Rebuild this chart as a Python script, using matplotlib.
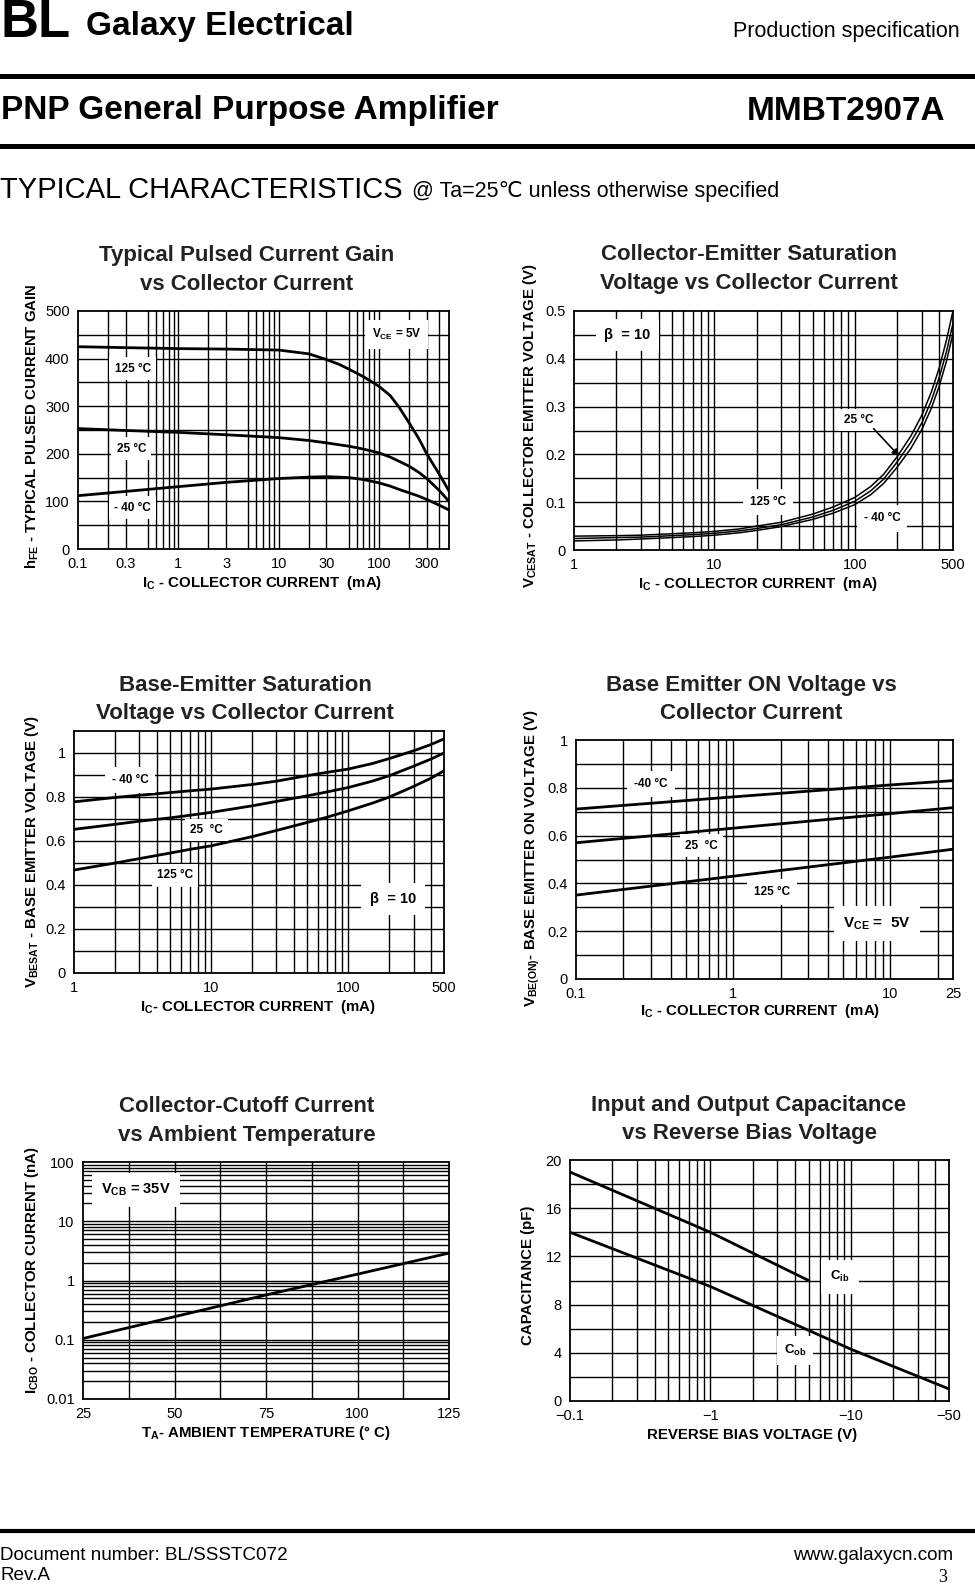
import numpy as np
import matplotlib
matplotlib.use("Agg")
import matplotlib.pyplot as plt
from matplotlib.lines import Line2D

plt.rcParams['font.family'] = ['Liberation Sans', 'DejaVu Sans']
plt.rcParams['mathtext.fontset'] = 'custom'
plt.rcParams['mathtext.rm'] = 'Liberation Sans:bold'
plt.rcParams['mathtext.it'] = 'Liberation Sans:bold'
plt.rcParams['mathtext.bf'] = 'Liberation Sans:bold'
plt.rcParams['mathtext.default'] = 'rm'

W, H = 975, 1584

# --- chart 1: hFE vs Ic
hfe_ic = [0.1, 0.3, 1, 3, 10, 20, 30, 40, 50, 70, 100, 130, 160, 200, 250, 300, 400, 500]
hfe_125 = [425, 423, 421, 420, 418, 410, 398, 388, 378, 362, 342, 322, 297, 265, 232, 200, 157, 122]
hfe_25 = [253, 249, 245, 240, 234, 228, 223, 219, 216, 210, 202, 193, 184, 174, 161, 148, 123, 100]
hfe_m40 = [112, 121, 131, 140, 148, 151, 152, 151, 150, 146, 139, 132, 125, 118, 111, 104, 92, 82]

# --- chart 2: VCEsat vs Ic
vce_ic = [1, 2, 3, 5, 7, 10, 15, 20, 30, 50, 70, 100, 130, 160, 200, 250, 300, 350, 400, 450, 500]
vce_125 = [0.029, 0.030, 0.031, 0.034, 0.036, 0.039, 0.044, 0.050, 0.058, 0.075, 0.090, 0.110,
           0.133, 0.158, 0.195, 0.238, 0.282, 0.330, 0.382, 0.440, 0.500]
vce_25 = [0.024, 0.026, 0.027, 0.030, 0.032, 0.035, 0.040, 0.045, 0.053, 0.069, 0.083, 0.102,
          0.124, 0.148, 0.184, 0.225, 0.266, 0.312, 0.362, 0.416, 0.474]
vce_m40 = [0.019, 0.021, 0.023, 0.026, 0.028, 0.031, 0.036, 0.041, 0.049, 0.064, 0.077, 0.095,
           0.116, 0.139, 0.173, 0.212, 0.252, 0.296, 0.344, 0.396, 0.453]

# --- chart 3: VBEsat vs Ic
vbs_ic = [1, 2, 3, 5, 7, 10, 20, 30, 50, 70, 100, 150, 200, 300, 400, 500]
vbs_m40 = [0.778, 0.798, 0.808, 0.820, 0.828, 0.836, 0.857, 0.872, 0.897, 0.912, 0.927, 0.952,
           0.975, 1.010, 1.038, 1.064]
vbs_25 = [0.653, 0.676, 0.690, 0.705, 0.717, 0.730, 0.760, 0.780, 0.805, 0.823, 0.843, 0.872,
          0.897, 0.940, 0.972, 1.000]
vbs_125 = [0.468, 0.500, 0.520, 0.545, 0.562, 0.578, 0.620, 0.648, 0.684, 0.708, 0.737, 0.772,
           0.800, 0.848, 0.885, 0.919]

# --- chart 4: VBE(on) vs Ic
von_ic = [0.1, 1, 10, 25]
von_m40 = [0.711, 0.762, 0.812, 0.830]
von_25 = [0.570, 0.631, 0.692, 0.717]
von_125 = [0.351, 0.430, 0.510, 0.543]

# --- chart 5: ICBO vs TA
icbo_ta = [25, 50, 75, 100, 125]
icbo_na = [0.105, 0.245, 0.57, 1.28, 2.9]

# --- chart 6: capacitance vs reverse bias
cib_v = [0.1, 1, 5]
cib_pf = [19, 14, 10]
cob_v = [0.1, 1, 10, 50]
cob_pf = [14, 9.5, 4.3, 1.0]

fig = plt.figure(figsize=(W / 100, H / 100), dpi=100)


def fx(x):
    return x / W


def fy(y):
    return 1 - y / H


def make_ax(l, r, t, b):
    ax = fig.add_axes([fx(l), fy(b), (r - l) / W, (b - t) / H])
    for s in ax.spines.values():
        s.set_linewidth(1.3)
    ax.tick_params(length=0, labelsize=10.5, pad=6)
    return ax


def log_lines(lo, hi, skip=()):
    out = []
    d = 10.0 ** np.floor(np.log10(lo))
    while d < hi:
        for m in range(1, 10):
            v = m * d
            if lo < v < hi and m not in skip:
                out.append(v)
        d *= 10
    return out


def grid(ax, xs, ys):
    for v in xs:
        ax.axvline(v, color='black', lw=1.0, zorder=1)
    for v in ys:
        ax.axhline(v, color='black', lw=1.0, zorder=1)


def tag(ax, x, y, s, size=8.5, pad=0.45):
    ax.text(x, y, s, ha='center', va='center', fontsize=size, fontweight='bold', zorder=3,
            bbox=dict(boxstyle='square,pad=%s' % pad, facecolor='white', edgecolor='none'))


def title(cx, y1, y2, l1, l2):
    fig.text(fx(cx), fy(y1), l1, ha='center', va='center', fontsize=16, fontweight='bold', color='#222222')
    fig.text(fx(cx), fy(y2), l2, ha='center', va='center', fontsize=16, fontweight='bold', color='#222222')


def xlab(cx, y, s):
    fig.text(fx(cx), fy(y), s, ha='center', va='center', fontsize=10.8, fontweight='bold')


def ylab(x, cy, s):
    fig.text(fx(x), fy(cy), s, ha='center', va='center', fontsize=10.8, fontweight='bold', rotation=90)


# ---------------- header ----------------
fig.text(fx(0), fy(23), 'BL', ha='left', va='center', fontsize=38, fontweight='bold')
fig.text(fx(86), fy(27), 'Galaxy Electrical', ha='left', va='center', fontsize=24, fontweight='bold')
fig.text(fx(960), fy(31), 'Production specification', ha='right', va='center', fontsize=15.5)
fig.add_artist(Line2D([0, 1], [fy(76), fy(76)], color='black', lw=3.6))
fig.text(fx(1), fy(111), 'PNP General Purpose Amplifier', ha='left', va='center', fontsize=24, fontweight='bold')
fig.text(fx(945), fy(111), 'MMBT2907A', ha='right', va='center', fontsize=24, fontweight='bold')
fig.add_artist(Line2D([0, 1], [fy(146), fy(146)], color='black', lw=3.6))
fig.text(fx(0), fy(190), 'TYPICAL CHARACTERISTICS', ha='left', va='center', fontsize=21)
fig.text(fx(412), fy(192), '@ Ta=25\u2103 unless otherwise specified', ha='left', va='center', fontsize=15.5)

# ---------------- chart 1 ----------------
ax = make_ax(78, 449, 311, 549)
ax.set_xscale('log')
ax.set_xlim(0.1, 500)
ax.set_ylim(0, 500)
grid(ax, log_lines(0.1, 500, skip=(4,)) + [400], np.arange(50, 500, 50))
ax.plot(hfe_ic, hfe_125, color='black', lw=2.0, zorder=2)
ax.plot(hfe_ic, hfe_25, color='black', lw=2.0, zorder=2)
ax.plot(hfe_ic, hfe_m40, color='black', lw=2.0, zorder=2)
ax.set_xticks([0.1, 0.3, 1, 3, 10, 30, 100, 300])
ax.set_xticklabels(['0.1', '0.3', '1', '3', '10', '30', '100', '300'])
ax.set_yticks(np.arange(0, 501, 100))
ax.set_yticklabels([str(v) for v in range(0, 501, 100)])
ax.minorticks_off()
tag(ax, 0.35, 379, '125 \u00b0C')
tag(ax, 0.34, 211, '25 \u00b0C')
tag(ax, 0.35, 87, '- 40 \u00b0C')
tag(ax, 150, 450, 'V$_{CE}$ = 5V', size=8.5, pad=0.6)
title(247, 255, 284, 'Typical Pulsed Current Gain', 'vs Collector Current')
xlab(262, 583, 'I$_C$ - COLLECTOR CURRENT  (mA)')
ylab(32, 426, 'h$_{FE}$ - TYPICAL PULSED CURRENT GAIN')

# ---------------- chart 2 ----------------
ax = make_ax(574, 953, 311, 550)
ax.set_xscale('log')
ax.set_xlim(1, 500)
ax.set_ylim(0, 0.5)
grid(ax, log_lines(1, 500), np.arange(0.05, 0.5, 0.05))
ax.plot(vce_ic, vce_125, color='black', lw=1.1, zorder=2)
ax.plot(vce_ic, vce_25, color='black', lw=1.1, zorder=2)
ax.plot(vce_ic, vce_m40, color='black', lw=1.1, zorder=2)
ax.set_xticks([1, 10, 100, 500])
ax.set_xticklabels(['1', '10', '100', '500'])
ax.set_yticks([0, 0.1, 0.2, 0.3, 0.4, 0.5])
ax.set_yticklabels(['0', '0.1', '0.2', '0.3', '0.4', '0.5'])
ax.minorticks_off()
tag(ax, 2.4, 0.45, '\u03b2  = 10', size=10.5, pad=0.6)
tag(ax, 106, 0.272, '25 \u00b0C')
ax.annotate('', xy=(214, 0.192), xytext=(132, 0.258), zorder=3,
            arrowprops=dict(arrowstyle='-|>', color='black', lw=1.2, mutation_scale=10))
tag(ax, 24, 0.101, '125 \u00b0C', pad=0.6)
tag(ax, 156, 0.066, '- 40 \u00b0C', pad=0.6)
title(749, 254, 283, 'Collector-Emitter Saturation', 'Voltage vs Collector Current')
xlab(758, 584, 'I$_C$ - COLLECTOR CURRENT  (mA)')
ylab(530, 426, 'V$_{CESAT}$ - COLLECTOR EMITTER VOLTAGE (V)')

# ---------------- chart 3 ----------------
ax = make_ax(74, 444, 731, 973)
ax.set_xscale('log')
ax.set_xlim(1, 500)
ax.set_ylim(0, 1.1)
grid(ax, log_lines(1, 500), np.arange(0.1, 1.05, 0.1))
ax.plot(vbs_ic, vbs_m40, color='black', lw=2.0, zorder=2)
ax.plot(vbs_ic, vbs_25, color='black', lw=2.0, zorder=2)
ax.plot(vbs_ic, vbs_125, color='black', lw=2.0, zorder=2)
ax.set_xticks([1, 10, 100, 500])
ax.set_xticklabels(['1', '10', '100', '500'])
ax.set_yticks([0, 0.2, 0.4, 0.6, 0.8, 1.0])
ax.set_yticklabels(['0', '0.2', '0.4', '0.6', '0.8', '1'])
ax.minorticks_off()
tag(ax, 2.56, 0.878, '- 40 \u00b0C', pad=0.6)
tag(ax, 9.3, 0.65, '25  \u00b0C')
tag(ax, 5.45, 0.444, '125 \u00b0C')
tag(ax, 212, 0.337, '\u03b2  = 10', size=10.5, pad=0.6)
title(245, 685, 713, 'Base-Emitter Saturation', 'Voltage vs Collector Current')
xlab(258, 1007, 'I$_C$- COLLECTOR CURRENT  (mA)')
ylab(32, 851, 'V$_{BESAT}$ - BASE EMITTER VOLTAGE (V)')

# ---------------- chart 4 ----------------
ax = make_ax(576, 953, 740, 979)
ax.set_xscale('log')
ax.set_xlim(0.1, 25)
ax.set_ylim(0, 1)
grid(ax, log_lines(0.1, 25), np.arange(0.1, 1.0, 0.1))
ax.plot(von_ic, von_m40, color='black', lw=2.0, zorder=2)
ax.plot(von_ic, von_25, color='black', lw=2.0, zorder=2)
ax.plot(von_ic, von_125, color='black', lw=2.0, zorder=2)
ax.set_xticks([0.1, 1, 10, 25])
ax.set_xticklabels(['0.1', '1', '10', '25'])
ax.set_yticks([0, 0.2, 0.4, 0.6, 0.8, 1.0])
ax.set_yticklabels(['0', '0.2', '0.4', '0.6', '0.8', '1'])
ax.minorticks_off()
tag(ax, 0.30, 0.816, '-40 \u00b0C', pad=0.6)
tag(ax, 0.63, 0.558, '25  \u00b0C')
tag(ax, 1.77, 0.363, '125 \u00b0C', pad=0.6)
tag(ax, 8.2, 0.233, 'V$_{CE}$ =  5V', size=11, pad=0.6)
title(751, 686, 714, 'Base Emitter ON Voltage vs', 'Collector Current')
xlab(760, 1011, 'I$_C$ - COLLECTOR CURRENT  (mA)')
ylab(532, 858, 'V$_{BE(ON)}$- BASE EMITTER ON VOLTAGE (V)')

# ---------------- chart 5 ----------------
ax = make_ax(83, 449, 1162, 1399)
ax.set_yscale('log')
ax.set_xlim(25, 125)
ax.set_ylim(0.01, 100)
grid(ax, np.arange(37.5, 125, 12.5), log_lines(0.01, 100))
ax.plot(icbo_ta, icbo_na, color='black', lw=2.0, zorder=2)
ax.set_xticks([25, 50, 75, 100, 125])
ax.set_xticklabels(['25', '50', '75', '100', '125'])
ax.set_yticks([0.01, 0.1, 1, 10, 100])
ax.set_yticklabels(['0.01', '0.1', '1', '10', '100'])
ax.minorticks_off()
tag(ax, 39.5, 34, 'V$_{CB}$ = 35V', size=10.5, pad=0.6)
title(247, 1106, 1136, 'Collector-Cutoff Current', 'vs Ambient Temperature')
xlab(266, 1433, 'T$_A$- AMBIENT TEMPERATURE (\u00b0 C)')
ylab(32, 1270, 'I$_{CBO}$ - COLLECTOR CURRENT (nA)')

# ---------------- chart 6 ----------------
ax = make_ax(570, 949, 1160, 1401)
ax.set_xscale('log')
ax.set_xlim(0.1, 50)
ax.set_ylim(0, 20)
grid(ax, log_lines(0.1, 50), np.arange(2, 20, 2))
ax.plot(cib_v, cib_pf, color='black', lw=2.0, zorder=2)
ax.plot(cob_v, cob_pf, color='black', lw=2.0, zorder=2)
ax.set_xticks([0.1, 1, 10, 50])
ax.set_xticklabels(['\u22120.1', '\u22121', '\u221210', '\u221250'])
ax.set_yticks([0, 4, 8, 12, 16, 20])
ax.set_yticklabels(['0', '4', '8', '12', '16', '20'])
ax.minorticks_off()
tag(ax, 8.4, 10.3, 'C$_{ib}$', size=9.5, pad=0.7)
tag(ax, 4.0, 4.2, 'C$_{ob}$', size=9.5, pad=0.5)
title(749, 1105, 1134, 'Input and Output Capacitance', 'vs Reverse Bias Voltage')
xlab(752, 1435, 'REVERSE BIAS VOLTAGE (V)')
ylab(528, 1275, 'CAPACITANCE (pF)')

# ---------------- footer ----------------
fig.add_artist(Line2D([0, 1], [fy(1531), fy(1531)], color='black', lw=3.0))
fig.text(fx(0), fy(1556), 'Document number: BL/SSSTC072', ha='left', va='center', fontsize=13.6)
fig.text(fx(953), fy(1556), 'www.galaxycn.com', ha='right', va='center', fontsize=13.6)
fig.text(fx(0), fy(1576), 'Rev.A', ha='left', va='center', fontsize=13.6)
fig.text(fx(947), fy(1577), '3', ha='right', va='center', fontsize=13, family=['Liberation Serif', 'DejaVu Serif'])

fig.savefig('out.png', dpi=100)
